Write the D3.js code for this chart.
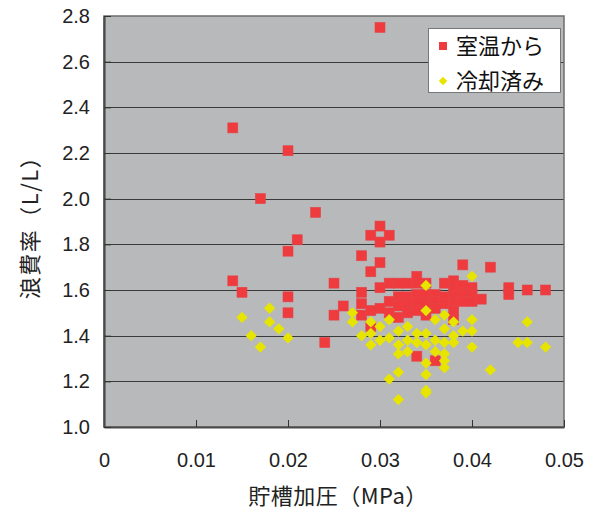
<!DOCTYPE html>
<html>
<head>
<meta charset="utf-8">
<script src="https://cdn.jsdelivr.net/npm/d3@7"></script>
<style>
  html, body { margin: 0; padding: 0; background: #fff; }
  svg { display: block; }
</style>
</head>
<body>
<svg id="chart" width="594" height="511"></svg>
<script>
// 室温から: [貯槽加圧 (MPa), 浪費率 (L/L)]
const roomTempX = [
  0.014, 0.014, 0.015, 0.017, 0.020, 0.020, 0.020, 0.020, 0.021, 0.023, 0.024,
  0.025, 0.025, 0.026, 0.028, 0.028, 0.028, 0.028, 0.029, 0.029, 0.029, 0.029,
  0.030, 0.030, 0.030, 0.030, 0.030, 0.030, 0.031, 0.031, 0.031, 0.031,
  0.032, 0.032, 0.032, 0.032, 0.033, 0.033, 0.033, 0.033,
  0.034, 0.034, 0.034, 0.034, 0.034, 0.034, 0.035, 0.035, 0.035, 0.035,
  0.036, 0.036, 0.036, 0.036, 0.037, 0.037, 0.037,
  0.038, 0.038, 0.038, 0.038, 0.038, 0.038, 0.039, 0.039, 0.039, 0.039,
  0.040, 0.040, 0.040, 0.041, 0.042, 0.044, 0.044, 0.046, 0.048
];
const roomTempY = [
  2.31, 1.64, 1.59, 2.00, 2.21, 1.77, 1.57, 1.50, 1.82, 1.94, 1.37,
  1.63, 1.49, 1.53, 1.75, 1.59, 1.54, 1.49, 1.84, 1.68, 1.51, 1.44,
  2.75, 1.88, 1.81, 1.72, 1.61, 1.52, 1.84, 1.63, 1.55, 1.50,
  1.63, 1.57, 1.53, 1.48, 1.63, 1.57, 1.54, 1.50,
  1.66, 1.63, 1.58, 1.55, 1.51, 1.31, 1.63, 1.58, 1.54, 1.49,
  1.58, 1.55, 1.52, 1.29, 1.63, 1.57, 1.54,
  1.64, 1.60, 1.57, 1.54, 1.51, 1.47, 1.71, 1.62, 1.58, 1.55,
  1.61, 1.58, 1.55, 1.56, 1.70, 1.61, 1.58, 1.60, 1.60
];

// 冷却済み: [貯槽加圧 (MPa), 浪費率 (L/L)]
const cooledX = [
  0.015, 0.016, 0.017, 0.018, 0.018, 0.019, 0.020,
  0.027, 0.027, 0.028, 0.029, 0.029, 0.029, 0.030, 0.030,
  0.031, 0.031, 0.031, 0.032, 0.032, 0.032, 0.032, 0.032,
  0.033, 0.033, 0.033, 0.034, 0.034,
  0.035, 0.035, 0.035, 0.035, 0.035, 0.035, 0.035, 0.035,
  0.036, 0.036, 0.036, 0.037, 0.037, 0.037, 0.037, 0.037, 0.037,
  0.038, 0.038, 0.038, 0.039, 0.040, 0.040, 0.040, 0.040,
  0.042, 0.045, 0.046, 0.046, 0.048
];
const cooledY = [
  1.48, 1.40, 1.35, 1.52, 1.46, 1.43, 1.39,
  1.50, 1.46, 1.40, 1.46, 1.41, 1.36, 1.44, 1.38,
  1.47, 1.39, 1.21, 1.42, 1.36, 1.32, 1.24, 1.12,
  1.44, 1.38, 1.33, 1.41, 1.37,
  1.62, 1.51, 1.41, 1.36, 1.28, 1.23, 1.16, 1.15,
  1.47, 1.38, 1.33, 1.49, 1.43, 1.37, 1.32, 1.29, 1.26,
  1.46, 1.40, 1.37, 1.42, 1.66, 1.47, 1.42, 1.35,
  1.25, 1.37, 1.46, 1.37, 1.35
];

const xTicks = [0, 0.01, 0.02, 0.03, 0.04, 0.05];
const xTickLabels = ["0", "0.01", "0.02", "0.03", "0.04", "0.05"];
const yTicks = [1.0, 1.2, 1.4, 1.6, 1.8, 2.0, 2.2, 2.4, 2.6, 2.8];
const yTickLabels = ["1.0", "1.2", "1.4", "1.6", "1.8", "2.0", "2.2", "2.4", "2.6", "2.8"];
const seriesNames = ["室温から", "冷却済み"];
const xTitle = "貯槽加圧（MPa）";
const yTitle = "浪費率（L/L）";

const svg = d3.select("#chart");
const plotLeft = 104, plotRight = 564, plotTop = 16, plotBottom = 427;
const numFont = "'Liberation Sans', Arial, sans-serif";
const cjkFont = "'Noto Sans CJK JP', 'Noto Sans', sans-serif";

const x = d3.scaleLinear().domain([0, 0.05]).range([plotLeft, plotRight]);
const y = d3.scaleLinear().domain([1.0, 2.8]).range([plotBottom, plotTop]);

// plot background
svg.append("rect")
  .attr("x", plotLeft).attr("y", plotTop)
  .attr("width", plotRight - plotLeft).attr("height", plotBottom - plotTop)
  .attr("fill", "#b8b9ba");

// horizontal gridlines
svg.append("g")
  .selectAll("line")
  .data(yTicks.slice(1, -1))
  .join("line")
  .attr("x1", plotLeft).attr("x2", plotRight)
  .attr("y1", d => Math.round(y(d)) + 0.5).attr("y2", d => Math.round(y(d)) + 0.5)
  .attr("stroke", "#3a3a3a").attr("stroke-width", 1.2);

// plot frame
svg.append("rect")
  .attr("x", plotLeft).attr("y", plotTop)
  .attr("width", plotRight - plotLeft).attr("height", plotBottom - plotTop)
  .attr("fill", "none").attr("stroke", "#6e6e6e").attr("stroke-width", 1.5);

// axes with inward ticks
const xAxis = d3.axisBottom(x).tickValues(xTicks)
  .tickFormat((d, i) => xTickLabels[i]).tickSizeInner(-7).tickSizeOuter(0).tickPadding(26);
const gx = svg.append("g").attr("transform", `translate(0,${plotBottom})`).call(xAxis);
gx.select(".domain").attr("stroke", "#4a4a4a").attr("stroke-width", 2.2);
gx.selectAll(".tick line").attr("stroke", "#333");
gx.selectAll(".tick text")
  .attr("font-family", numFont).attr("font-size", 20).attr("fill", "#222")
  .attr("dy", "0.71em");

const yAxis = d3.axisLeft(y).tickValues(yTicks)
  .tickFormat((d, i) => yTickLabels[i]).tickSizeInner(-7).tickSizeOuter(0).tickPadding(14);
const gy = svg.append("g").attr("transform", `translate(${plotLeft},0)`).call(yAxis);
gy.select(".domain").attr("stroke", "#4a4a4a").attr("stroke-width", 2.2);
gy.selectAll(".tick line").attr("stroke", "#333");
gy.selectAll(".tick text")
  .attr("font-family", numFont).attr("font-size", 20).attr("fill", "#222");

// markers
const red = "#ef3a3e", yellow = "#e7e500";
const sq = 10;
svg.append("g")
  .selectAll("rect")
  .data(d3.range(roomTempX.length))
  .join("rect")
  .attr("x", i => x(roomTempX[i]) - sq / 2)
  .attr("y", i => y(roomTempY[i]) - sq / 2)
  .attr("width", sq).attr("height", sq)
  .attr("fill", red).attr("stroke", "#e2474b").attr("stroke-width", 0.6);

const diamond = d3.symbol().type(d3.symbolSquare).size(64);
svg.append("g")
  .selectAll("path")
  .data(d3.range(cooledX.length))
  .join("path")
  .attr("d", diamond)
  .attr("transform", i => `translate(${x(cooledX[i])},${y(cooledY[i])}) rotate(45)`)
  .attr("fill", yellow);

// legend
const lg = svg.append("g");
lg.append("rect")
  .attr("x", 428.5).attr("y", 28.5).attr("width", 132).attr("height", 64)
  .attr("fill", "#fff").attr("stroke", "#777").attr("stroke-width", 1);
lg.append("rect")
  .attr("x", 443 - 4).attr("y", 46 - 4).attr("width", 8).attr("height", 8)
  .attr("fill", red);
lg.append("path")
  .attr("d", d3.symbol().type(d3.symbolSquare).size(36))
  .attr("transform", "translate(443,81) rotate(45)")
  .attr("fill", yellow);
lg.selectAll("text")
  .data(seriesNames)
  .join("text")
  .attr("x", 456).attr("y", (d, i) => i === 0 ? 46 : 81)
  .attr("dy", "0.36em")
  .attr("font-family", cjkFont).attr("font-size", 22).attr("fill", "#111")
  .text(d => d);

// axis titles
svg.append("text")
  .attr("x", 338).attr("y", 496).attr("dy", "0.36em")
  .attr("text-anchor", "middle")
  .attr("font-family", cjkFont).attr("font-size", 22).attr("fill", "#222")
  .attr("letter-spacing", 0.5)
  .text(xTitle);
svg.append("text")
  .attr("transform", "translate(30,222) rotate(-90)")
  .attr("text-anchor", "middle").attr("dy", "0.36em")
  .attr("font-family", cjkFont).attr("font-size", 22).attr("fill", "#222")
  .attr("letter-spacing", 1.5)
  .text(yTitle);
</script>
</body>
</html>
